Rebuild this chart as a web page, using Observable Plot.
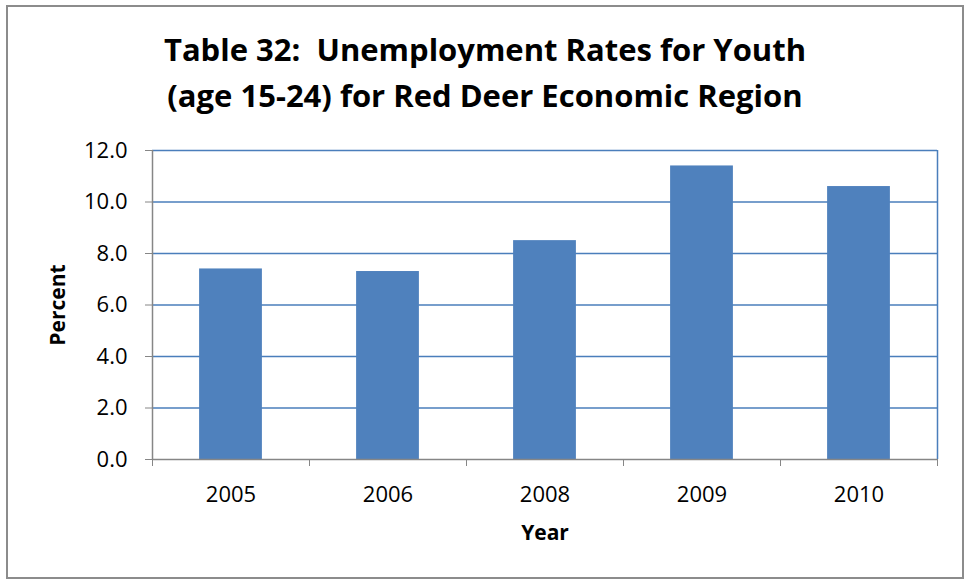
<!DOCTYPE html>
<html>
<head>
<meta charset="utf-8">
<script src="https://cdn.jsdelivr.net/npm/d3@7"></script>
<script src="https://cdn.jsdelivr.net/npm/@observablehq/plot@0.6"></script>
<style>
  html, body { margin: 0; padding: 0; background: #fff; }
  #wrap { position: relative; width: 967px; height: 582px; overflow: hidden; }
  #frame { position: absolute; left: 6px; top: 5px; width: 958px; height: 574px; border: 2px solid #8c8c8c; box-sizing: border-box; }
  #title { position: absolute; left: 0; top: 26px; width: 970px; text-align: center;
           font-family: "Open Sans", sans-serif; font-weight: bold; font-size: 31px; line-height: 46px; color: #000; }
  #chart { position: absolute; left: 0; top: 0; }
</style>
</head>
<body>
<div id="wrap">
  <div id="frame"></div>
  <div id="title">Table 32:&nbsp; Unemployment Rates for Youth<br>(age 15-24) for Red Deer Economic Region</div>
  <div id="chart"></div>
</div>
<script>
const years = ["2005", "2006", "2008", "2009", "2010"];
const rates = [7.4, 7.3, 8.5, 11.4, 10.6];
const yTicks = [0, 2, 4, 6, 8, 10, 12];
const xLabel = "Year";
const yLabel = "Percent";

const data = years.map((y, i) => ({i, year: y, value: rates[i]}));
const bounds = d3.range(years.length + 1);

const font = "Open Sans";
const chart = Plot.plot({
  width: 967,
  height: 582,
  marginLeft: 152,
  marginRight: 30,
  marginTop: 150,
  marginBottom: 123,
  style: {fontFamily: font, fontSize: "22px", color: "#000", background: "transparent"},
  x: {type: "linear", domain: [0, years.length], axis: null},
  y: {type: "linear", domain: [0, 12], axis: null},
  marks: [
    Plot.ruleY(yTicks.filter(d => d > 0), {stroke: "#4a7ebb", strokeWidth: 1.5}),
    Plot.ruleX([years.length], {stroke: "#4a7ebb", strokeWidth: 1.5}),
    Plot.rectY(data, {x1: d => d.i + 0.3, x2: d => d.i + 0.7, y1: 0, y2: "value", fill: "#4f81bd"}),
    Plot.ruleX([0], {stroke: "#868686", strokeWidth: 1.5}),
    Plot.ruleY([0], {stroke: "#868686", strokeWidth: 1.5}),
    Plot.axisY({ticks: yTicks, tickFormat: d3.format(".1f"), tickSize: 7, tickPadding: 18, stroke: "#868686", label: null, fontSize: 22, color: "#000"}),
    Plot.axisX({ticks: bounds, tickFormat: () => "", tickSize: 7, stroke: "#868686", label: null}),
    Plot.text(data, {x: d => d.i + 0.5, y: 0, text: "year", dy: 35, fontSize: 22, fill: "#000"}),
    Plot.text([xLabel], {frameAnchor: "bottom", lineAnchor: "middle", dy: 74, fontWeight: "bold", fontSize: 21, fill: "#000"}),
    Plot.text([yLabel], {frameAnchor: "left", textAnchor: "middle", lineAnchor: "middle", dx: -94, rotate: -90, fontWeight: "bold", fontSize: 21, fill: "#000"})
  ]
});
document.getElementById("chart").appendChild(chart);
</script>
</body>
</html>
